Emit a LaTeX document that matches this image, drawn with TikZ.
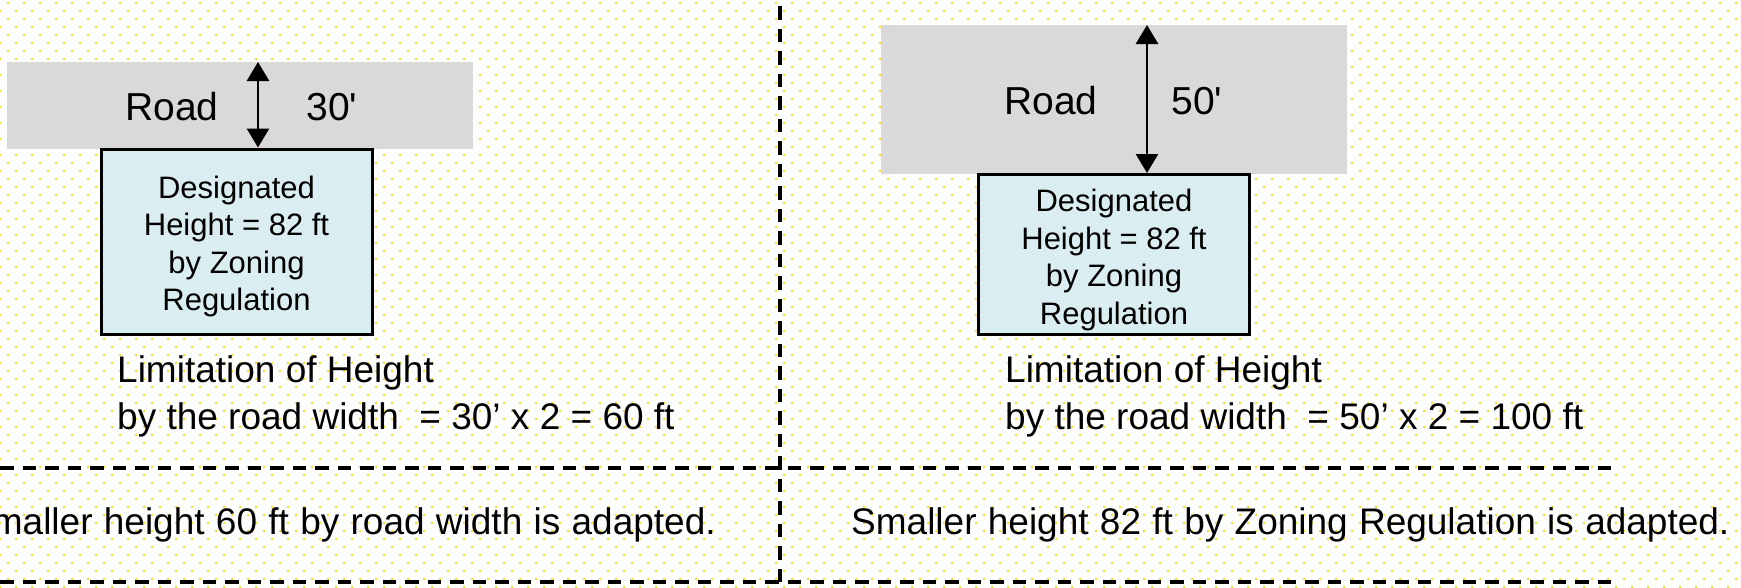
\documentclass[tikz,border=0pt]{standalone}
\usepackage{fontspec}
\setmainfont{Liberation Sans}
\usetikzlibrary{arrows.meta,patterns}
\pgfdeclarepatternformonly{ydots}{\pgfqpoint{-1.5pt}{-1.5pt}}{\pgfqpoint{17.5pt}{17.5pt}}{\pgfqpoint{16pt}{16pt}}{
  \pgfpathcircle{\pgfqpoint{0pt}{0pt}}{1.3pt}
  \pgfpathcircle{\pgfqpoint{8pt}{8pt}}{1.3pt}
  \pgfusepath{fill}}
\definecolor{dotyellow}{RGB}{255,215,30}
\definecolor{roadgray}{RGB}{217,217,217}
\definecolor{boxblue}{RGB}{218,237,240}
\newcommand\widerspaces{\spaceskip=11.3pt plus 2pt minus 2pt\relax}
\tikzset{
  roadbox/.style={fill=roadgray, draw=none, inner sep=0pt},
  zonebox/.style={fill=boxblue, draw=black, line width=3pt, inner sep=0pt},
  zonetext/.style={inner sep=0pt, align=center, font=\fontsize{31}{37.5}\selectfont},
  roadlabel/.style={inner sep=0pt, font=\fontsize{39}{47}\selectfont},
  limittext/.style={inner sep=0pt, align=left, anchor=north west, font=\fontsize{37}{47.5}\selectfont},
  bottomtext/.style={inner sep=0pt, font=\fontsize{37}{45}\selectfont},
  dimarrow/.style={line width=2.8pt, {Triangle[width=22pt,length=19pt]}-{Triangle[width=22pt,length=19pt]}},
  sepline/.style={line width=3.6pt, dash pattern=on 13.5pt off 9pt},
}
\begin{document}
\begin{tikzpicture}[x=1pt,y=-1pt]
\useasboundingbox (0,0) rectangle (1741,587);
\clip (0,0) rectangle (1741,587);
\fill[white] (0,0) rectangle (1741,587);
\fill[pattern=ydots, pattern color=dotyellow] (0,0) rectangle (1741,587);

% left case
\node[roadbox, minimum width=466pt, minimum height=87pt] (road1) at (240,105.5) {};
\node[roadlabel] (roadl1) at (172,107) {Road};
\node[roadlabel] (w1) at (332,107) {30\textquotesingle};
\node[zonebox, minimum width=271pt, minimum height=185pt] (box1) at (236.5,241.5) {};
\node[zonetext] (box1t) at (236.5,246.5) {Designated\\Height = 82 ft\\by Zoning\\Regulation};
\coordinate (a1) at (258,62);
\draw[dimarrow] (a1) -- (a1 |- box1.north);
\node[limittext] (lim1) at (117,355) {Limitation of Height\\by the road width\ \ = 30’ x 2 = 60 ft};

% right case
\node[roadbox, minimum width=466pt, minimum height=149pt] (road2) at (1114,99.5) {};
\node[roadlabel] (roadl2) at (1051,101) {Road};
\node[roadlabel] (w2) at (1197,101) {50\textquotesingle};
\node[zonebox, minimum width=271pt, minimum height=160pt] (box2) at (1114,254.5) {};
\node[zonetext] (box2t) at (1114,260) {Designated\\Height = 82 ft\\by Zoning\\Regulation};
\coordinate (a2) at (1147,25);
\draw[dimarrow] (a2) -- (a2 |- box2.north);
\node[limittext] (lim2) at (1005,355) {Limitation of Height\\by the road width\ \ = 50’ x 2 = 100 ft};

% separators
\coordinate (vtop) at (780,6);
\coordinate (vbot) at (780,583);
\coordinate (h1l) at (0,468);
\coordinate (h1r) at (1615,468);
\coordinate (h2l) at (0,582);
\coordinate (h2r) at (1615,582);
\draw[sepline] (vtop) -- (vbot);
\draw[sepline] (h1l) -- (h1r);
\draw[sepline] (h2l) -- (h2r);

% conclusions
\node[bottomtext, anchor=east] (c1) at (716,525) {\widerspaces Smaller height 60 ft by road width is adapted.};
\node[bottomtext, anchor=west] (c2) at (851,525) {\widerspaces Smaller height 82 ft by Zoning Regulation is adapted.};
\end{tikzpicture}
\end{document}
